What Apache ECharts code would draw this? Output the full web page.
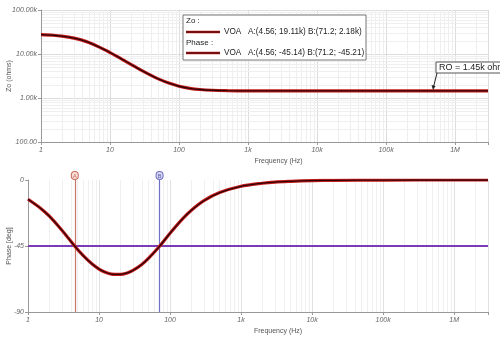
<!DOCTYPE html>
<html><head><meta charset="utf-8">
<script src="https://cdn.jsdelivr.net/npm/echarts@6/dist/echarts.min.js"></script>
<style>html,body{margin:0;padding:0;background:#fff}#c{width:500px;height:343px}</style>
</head><body><div id="c"></div>
<script>
// ---- data ----
var freq = [1, 1.5, 2, 3, 4.56, 6, 8, 10, 12, 15, 20, 25, 30, 40, 50, 71.2, 100, 150, 200, 300, 500, 1000, 2000, 3000, 5000, 10000, 20000, 100000, 1000000, 3000000];
var zo   = [27580, 26650, 25490, 22880, 19110, 15990, 12940, 10790, 9230, 7570, 5840, 4780, 4080, 3220, 2720, 2180, 1850, 1640, 1560, 1500, 1467, 1453, 1450, 1449, 1449, 1449, 1449, 1449, 1449, 1449];
var phase= [-13.1, -19.2, -24.7, -34.2, -45.14, -51.6, -57.3, -60.7, -62.7, -64.2, -64.4, -63.4, -61.7, -57.6, -53.3, -45.21, -36.3, -26.5, -20.6, -14.1, -8.6, -4.3, -2.2, -1.4, -0.9, -0.4, -0.2, -0.04, 0, 0];
var cursorA = 4.56, cursorB = 71.2, phaseLevel = -45;
var xTickLabels = {1:'1', 10:'10', 100:'100', 1000:'1k', 10000:'10k', 100000:'100k', 1000000:'1M'};
var legendRows = ['Zo :', 'VOA   A:(4.56; 19.11k) B:(71.2; 2.18k)', 'Phase :', 'VOA   A:(4.56; -45.14) B:(71.2; -45.21)'];
var roText = 'RO = 1.45k ohm';

function pairs(xs, ys){ return xs.map(function(x,i){ return [x, ys[i]]; }); }
function minors(lo, hi){ var r=[]; for(var d=lo; d<hi; d*=10){ for(var k=2;k<=9;k++){ var v=k*d; if(v<hi) r.push(v);} } return r; }

var F = 'Liberation Sans, Arial, sans-serif';
var tickLbl = {fontSize:7, color:'#666', fontStyle:'italic', fontFamily:F};
function xFmt(v){ var r = Math.round(v); return xTickLabels[r] !== undefined && Math.abs(r-v)<1e-6 ? xTickLabels[r] : ''; }
function zFmt(v){ return v>=1000 ? (v/1000).toFixed(2)+'k' : v.toFixed(2); }

var chart = echarts.init(document.getElementById('c'), null, {renderer:'canvas'});
var minorX = minors(1, 3000000).map(function(v){ return {xAxis:v}; });
var minorY = minors(100, 100000).map(function(v){ return {yAxis:v}; });
var pData = pairs(freq, phase), zData = pairs(freq, zo);

function curve(xi, data, color, w, z){
  return {type:'line', xAxisIndex:xi, yAxisIndex:xi, data:data, smooth:0.3, symbol:'none', z:z,
          silent:true, lineStyle:{color:color, width:w}};
}

chart.setOption({
  animation:false,
  backgroundColor:'#fff',
  grid:[
    {left:41, top:10, right:12, height:132, outerBoundsMode:'none', containLabel:false},
    {left:28, top:180, right:12, height:132, outerBoundsMode:'none', containLabel:false}
  ],
  xAxis:[
    {type:'log', gridIndex:0, min:1, max:3000000, logBase:10,
     name:'Frequency (Hz)', nameLocation:'middle', nameGap:16, nameMoveOverlap:false,
     nameTextStyle:{fontSize:7, color:'#555', fontFamily:F, padding:[0,0,0,28]},
     axisLine:{lineStyle:{color:'#999', width:1}}, axisTick:{show:true, length:3, lineStyle:{color:'#999'}},
     axisLabel:Object.assign({formatter:xFmt, margin:5}, tickLbl),
     splitLine:{show:true, lineStyle:{color:'#dcdcdc', width:1}}},
    {type:'log', gridIndex:1, min:1, max:3000000, logBase:10,
     name:'Frequency (Hz)', nameLocation:'middle', nameGap:16, nameMoveOverlap:false,
     nameTextStyle:{fontSize:7, color:'#555', fontFamily:F, padding:[0,0,0,40]},
     axisLine:{onZero:false, lineStyle:{color:'#999', width:1}}, axisTick:{show:true, length:3, lineStyle:{color:'#999'}},
     axisLabel:Object.assign({formatter:xFmt, margin:5}, tickLbl),
     splitLine:{show:true, lineStyle:{color:'#e2e2e2', width:1}}}
  ],
  yAxis:[
    {type:'log', gridIndex:0, min:100, max:100000, logBase:10,
     name:'Zo (ohms)', nameLocation:'middle', nameGap:28, nameMoveOverlap:false,
     nameTextStyle:{fontSize:7, color:'#555', fontFamily:F},
     axisLine:{show:true, lineStyle:{color:'#999'}}, axisTick:{show:true, length:3, lineStyle:{color:'#999'}},
     axisLabel:Object.assign({formatter:zFmt, margin:4}, tickLbl),
     splitLine:{show:true, lineStyle:{color:'#dcdcdc'}}},
    {type:'value', gridIndex:1, min:-90, max:0, interval:45,
     name:'Phase [deg]', nameLocation:'middle', nameGap:15, nameMoveOverlap:false,
     nameTextStyle:{fontSize:7, color:'#555', fontFamily:F},
     axisLine:{show:true, onZero:false, lineStyle:{color:'#999'}}, axisTick:{show:true, length:3, lineStyle:{color:'#999'}},
     axisLabel:Object.assign({margin:4}, tickLbl),
     splitLine:{show:false}}
  ],
  series:[
    {type:'line', xAxisIndex:0, yAxisIndex:0, data:[], silent:true, z:0,
     markLine:{silent:true, z:0, symbol:'none', label:{show:false}, animation:false,
       lineStyle:{color:'#efefef', width:1, type:'solid'}, data:minorX.concat(minorY)}},
    {type:'line', xAxisIndex:1, yAxisIndex:1, data:[], silent:true, z:0,
     markLine:{silent:true, z:0, symbol:'none', label:{show:false}, animation:false,
       lineStyle:{color:'#f0f0f0', width:1, type:'solid'}, data:minorX}},
    {type:'line', xAxisIndex:1, yAxisIndex:1, data:[], silent:true, z:3,
     markLine:{silent:true, z:3, symbol:'none', animation:false,
       data:[
         {yAxis:phaseLevel, label:{show:false}, lineStyle:{color:'#7a3cb4', width:2, type:'solid'}},
         {xAxis:cursorA, label:{show:true, position:'end', formatter:'A', distance:1, fontSize:6, color:'#c86a5a',
           backgroundColor:'#f8e0da', borderColor:'#c86a5a', borderWidth:1, borderRadius:3, padding:[1,1,0,1]},
          lineStyle:{color:'#c8786a', width:1.2, type:'solid'}},
         {xAxis:cursorB, label:{show:true, position:'end', formatter:'B', distance:1, fontSize:6, color:'#5a5ab8',
           backgroundColor:'#dcdcf4', borderColor:'#6a6ac0', borderWidth:1, borderRadius:3, padding:[1,1,0,1]},
          lineStyle:{color:'#7070c4', width:1.2, type:'solid'}}
       ]}},
    curve(0, zData, '#c41a1a', 3.2, 10),
    curve(0, zData, '#2b0505', 1.3, 11),
    curve(1, pData, '#c41a1a', 3.2, 10),
    curve(1, pData, '#2b0505', 1.3, 11)
  ],
  graphic:[
    {type:'rect', z:100, shape:{x:183, y:15, width:183, height:45}, style:{fill:'#fff', stroke:'#777', lineWidth:1}},
    {type:'text', z:101, style:{x:186, y:17, text:legendRows[0], fontSize:8, fill:'#222', fontFamily:F}},
    {type:'line', z:101, shape:{x1:186, y1:32, x2:220, y2:32}, style:{stroke:'#c41a1a', lineWidth:2.6}},
    {type:'line', z:102, shape:{x1:186, y1:32, x2:220, y2:32}, style:{stroke:'#2b0505', lineWidth:1}},
    {type:'text', z:101, style:{x:224, y:28, text:legendRows[1], fontSize:8.2, fill:'#222', fontFamily:F}},
    {type:'text', z:101, style:{x:186, y:39, text:legendRows[2], fontSize:8, fill:'#222', fontFamily:F}},
    {type:'line', z:101, shape:{x1:186, y1:53, x2:220, y2:53}, style:{stroke:'#c41a1a', lineWidth:2.6}},
    {type:'line', z:102, shape:{x1:186, y1:53, x2:220, y2:53}, style:{stroke:'#2b0505', lineWidth:1}},
    {type:'text', z:101, style:{x:224, y:49, text:legendRows[3], fontSize:8.2, fill:'#222', fontFamily:F}},
    {type:'rect', z:100, shape:{x:436, y:62, width:70, height:11}, style:{fill:'#fff', stroke:'#555', lineWidth:1}},
    {type:'text', z:101, style:{x:439, y:63, text:roText, fontSize:9, fill:'#222', fontFamily:F}},
    {type:'line', z:100, shape:{x1:437, y1:73, x2:433.5, y2:87}, style:{stroke:'#222', lineWidth:1}},
    {type:'polygon', z:100, shape:{points:[[433,90],[431.5,85],[435.5,86]]}, style:{fill:'#222'}}
  ]
});
</script>
</body></html>
